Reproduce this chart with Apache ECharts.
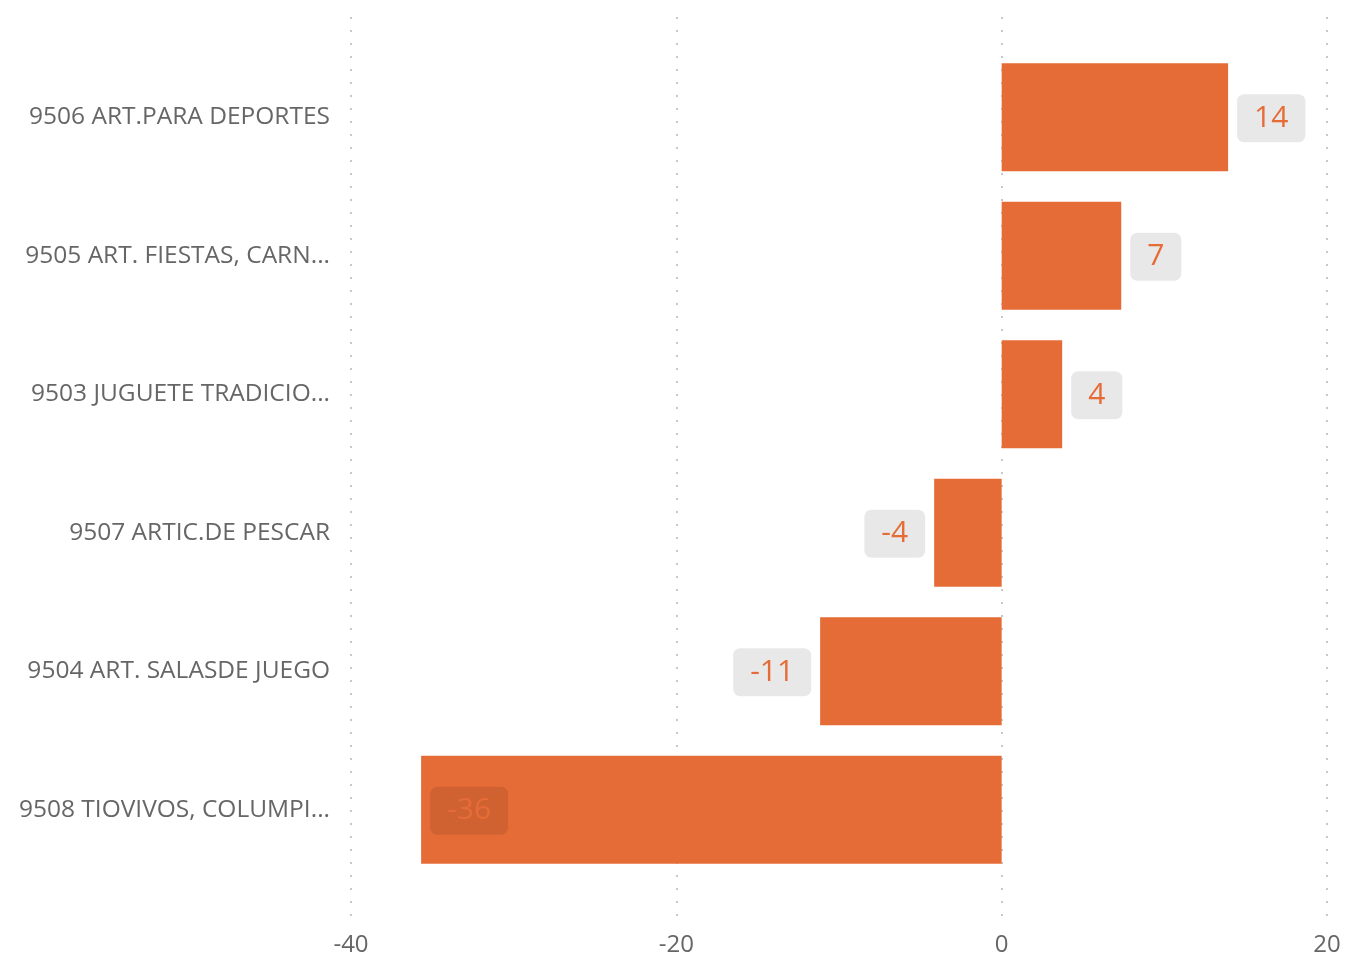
<!DOCTYPE html>
<html>
<head>
<meta charset="utf-8">
<script src="https://cdn.jsdelivr.net/npm/echarts@6/dist/echarts.min.js"></script>
<style>html,body{margin:0;padding:0;background:#fff;}#c{width:1346px;height:957px;}</style>
</head>
<body>
<div id="c"></div>
<script>
const categories = [
  "9506 ART.PARA DEPORTES",
  "9505 ART. FIESTAS, CARN...",
  "9503 JUGUETE TRADICIO...",
  "9507 ARTIC.DE PESCAR",
  "9504 ART. SALASDE JUEGO",
  "9508 TIOVIVOS, COLUMPI..."
];
const values = [13.92, 7.35, 3.72, -4.15, -11.16, -35.69];
const xTicks = { min: -40, max: 20, interval: 20 };

const FONT = "'Open Sans', 'Noto Sans', sans-serif";
const BAR = '#E56C37';

const chart = echarts.init(document.getElementById('c'), null, { renderer: 'canvas' });
chart.setOption({
  animation: false,
  backgroundColor: '#fff',
  grid: [
    { left: 351, right: 19, top: 17, bottom: 37 },
    { left: 351, right: 19, top: 48, bottom: 78 }
  ],
  xAxis: [
    {
      gridIndex: 0, type: 'value', min: xTicks.min, max: xTicks.max, interval: xTicks.interval,
      axisLine: { show: false }, axisTick: { show: false },
      axisLabel: { color: '#666', fontSize: 24, fontFamily: FONT, margin: 16 },
      splitLine: { show: true, lineStyle: { color: '#c8c8c8', width: 2, type: [2, 11] } }
    },
    {
      gridIndex: 1, type: 'value', min: xTicks.min, max: xTicks.max, interval: xTicks.interval,
      show: false, splitLine: { show: false }
    }
  ],
  yAxis: [
    { gridIndex: 0, type: 'category', data: categories, show: false },
    {
      gridIndex: 1, type: 'category', data: categories, inverse: true,
      axisLine: { show: false }, axisTick: { show: false },
      axisLabel: { color: '#666', fontSize: 24.5, fontFamily: FONT, margin: 21, padding: [6, 0, 0, 0] },
      splitLine: { show: false }
    }
  ],
  series: [{
    type: 'bar',
    xAxisIndex: 1, yAxisIndex: 1,
    data: values.map(v => {
      if (v >= 0) return v;
      if (v < -20) return { value: v, label: { position: 'insideLeft' } };
      return { value: v, label: { position: 'left' } };
    }),
    barCategoryGap: '22%',
    itemStyle: { color: BAR },
    label: {
      show: true,
      position: 'right',
      distance: 9,
      offset: [0, 1],
      formatter: p => String(Math.round(p.value)),
      color: BAR,
      fontSize: 30,
      fontFamily: FONT,
      backgroundColor: 'rgba(0,0,0,0.09)',
      borderRadius: 7,
      padding: [13, 17, 5, 17]
    }
  }]
});
</script>
</body>
</html>
